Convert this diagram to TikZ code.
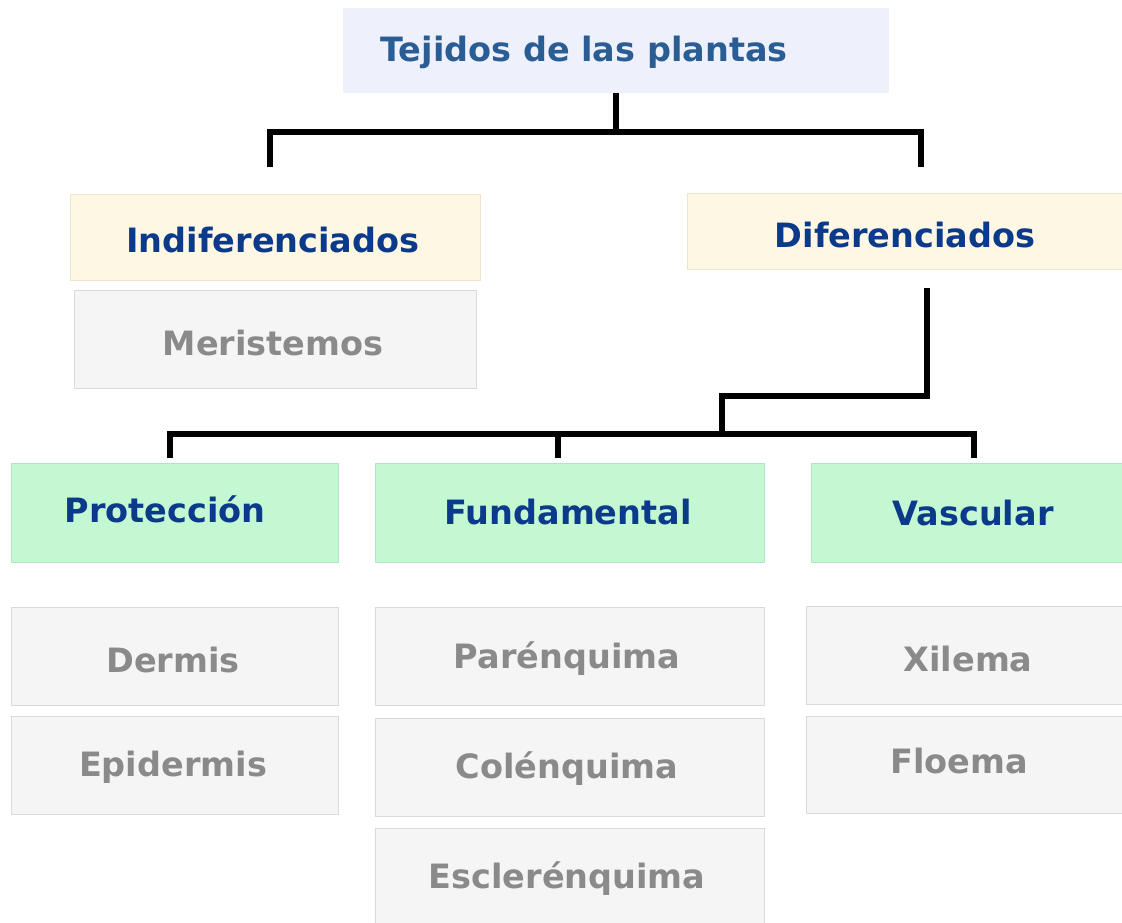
\documentclass[tikz,border=0pt]{standalone}
\usepackage{fontspec}
\setmainfont{DejaVu Sans}
\definecolor{titlefill}{HTML}{EEF1FB}
\definecolor{titletext}{HTML}{2A5D94}
\definecolor{creamfill}{HTML}{FDF7E3}
\definecolor{creamline}{HTML}{ECE6CF}
\definecolor{greenfill}{HTML}{C4F8D3}
\definecolor{greenline}{HTML}{B2E6C2}
\definecolor{grayfill}{HTML}{F5F5F5}
\definecolor{grayline}{HTML}{DADADA}
\definecolor{navytext}{HTML}{0C3A8B}
\definecolor{graytext}{HTML}{8A8A8A}
\begin{document}
\begin{tikzpicture}[x=1pt,y=-1pt,
  boxbase/.style={rectangle, inner sep=0pt, anchor=north west, line width=1pt},
  titlebox/.style={boxbase, fill=titlefill},
  creambox/.style={boxbase, fill=creamfill, draw=creamline},
  greenbox/.style={boxbase, fill=greenfill, draw=greenline},
  graybox/.style={boxbase, fill=grayfill, draw=grayline},
  lbl/.style={font=\fontsize{33.5}{40}\selectfont\bfseries, anchor=base, inner sep=0pt},
  navy/.style={lbl, text=navytext},
  grey/.style={lbl, text=graytext},
  conn/.style={line width=5.5pt, draw=black, line join=miter}]
\useasboundingbox (0,0) rectangle (1122,922);
\fill[white] (0,0) rectangle (1122,922);
% boxes
\node[titlebox, minimum width=546, minimum height=85] (top) at (342,7) {};
\node[creambox, minimum width=410, minimum height=86] (ind) at (70,194) {};
\node[graybox, minimum width=402, minimum height=98] (mer) at (74,290) {};
\node[creambox, minimum width=445, minimum height=76] (dif) at (687,193) {};
\node[greenbox, minimum width=327, minimum height=99] (pro) at (11,463) {};
\node[greenbox, minimum width=389, minimum height=99] (fun) at (375,463) {};
\node[greenbox, minimum width=320, minimum height=99] (vas) at (811,463) {};
\node[graybox, minimum width=327, minimum height=98] (der) at (11,607) {};
\node[graybox, minimum width=327, minimum height=98] (epi) at (11,716) {};
\node[graybox, minimum width=389, minimum height=98] (par) at (375,607) {};
\node[graybox, minimum width=389, minimum height=98] (col) at (375,718) {};
\node[graybox, minimum width=389, minimum height=100] (esc) at (375,828) {};
\node[graybox, minimum width=325, minimum height=98] (xil) at (806,606) {};
\node[graybox, minimum width=325, minimum height=97] (flo) at (806,716) {};
% texts
\node[lbl, text=titletext] (topT) at (584,61) {Tejidos de las plantas};
\node[navy] (indT) at (273,252) {Indiferenciados};
\node[grey] (merT) at (273,355) {Meristemos};
\node[navy] (difT) at (905,247) {Diferenciados};
\node[navy] (proT) at (165,522) {Protección};
\node[navy] (funT) at (568,524) {Fundamental};
\node[navy] (vasT) at (973,525) {Vascular};
\node[grey] (derT) at (173,672) {Dermis};
\node[grey] (epiT) at (173,776) {Epidermis};
\node[grey] (parT) at (567,668) {Parénquima};
\node[grey] (colT) at (567,778) {Colénquima};
\node[grey] (escT) at (567,888) {Esclerénquima};
\node[grey] (xilT) at (968,671) {Xilema};
\node[grey] (floT) at (959,773) {Floema};
% connectors
\coordinate (j1) at (616,132);
\coordinate (indtop) at (270,167);
\coordinate (diftop) at (921,167);
\coordinate (difbot) at (927,288);
\coordinate (j2) at (722,396);
\coordinate (j3) at (722,434);
\coordinate (protop) at (170,458);
\coordinate (funtop) at (558,458);
\coordinate (vastop) at (974,458);
\draw[conn] (top.south -| j1) -- (j1);
\draw[conn] (indtop) |- (j1) -| (diftop);
\draw[conn] (difbot) |- (j2) -- (j3);
\draw[conn] (protop) |- (j3) -| (vastop);
\draw[conn] (funtop) -- (funtop |- j3);
\end{tikzpicture}
\end{document}
